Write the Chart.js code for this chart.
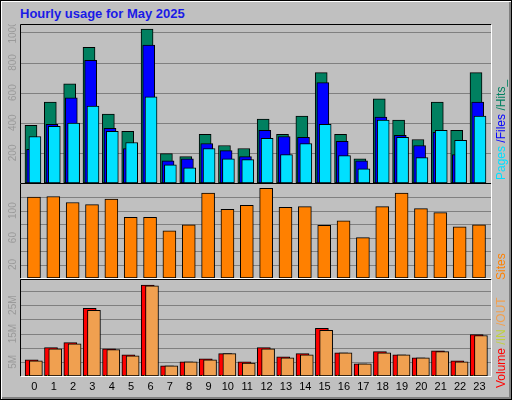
<!DOCTYPE html>
<html><head><meta charset="utf-8">
<script src="https://cdn.jsdelivr.net/npm/chart.js@4"></script>
<style>
html,body{margin:0;padding:0;}
body{width:512px;height:400px;background:#c0c0c0;position:relative;overflow:hidden;font-family:"Liberation Sans",Arial,sans-serif;}
#frame{position:absolute;left:0;top:0;width:510px;height:398px;border:1px solid #000;box-shadow:inset 1px 1px 0 #fff,inset -2px -2px 0 #808080;}
canvas{position:absolute;left:0;}
#title{position:absolute;left:20px;top:6px;font-weight:bold;font-size:13px;color:#1a1ae6;}
.rl{position:absolute;transform-origin:left top;transform:rotate(-90deg);font-size:12px;white-space:nowrap;}
</style></head><body>
<div id="frame"></div>
<div id="title">Hourly usage for May 2025</div>
<canvas id="c1" width="512" height="160" style="top:24px"></canvas>
<canvas id="c2" width="512" height="96" style="top:183px"></canvas>
<canvas id="c3" width="512" height="118" style="top:279px"></canvas>
<div class="rl" style="left:494px;top:180px"><span style="color:#00e0ff">Pages</span><span style="color:#0000ff"> /Files</span><span style="color:#008060"> /Hits_</span></div>
<div class="rl" style="left:494px;top:280px"><span style="color:#ff8000">Sites</span></div>
<div class="rl" style="left:494px;top:388px"><span style="color:#ff0000">Volume</span><span style="color:#c0d040"> /IN</span><span style="color:#f0a050"> /OUT</span></div>
<script>
const hours=[...Array(24).keys()];
const hits=[383,538,659,901,457,343,1022,195,175,323,249,229,424,323,444,733,323,161,558,417,289,538,350,733];
const files=[224,390,565,814,363,229,915,148,161,262,215,175,350,309,303,666,276,148,437,316,249,336,188,538];
const pages=[309,377,397,511,343,269,572,121,101,229,161,155,296,188,262,390,182,94,417,303,168,350,283,444];
const sites=[120,121,112,109,117,90,90,70,79,126,102,108,133,105,106,78,85,60,106,126,103,97,76,79];
const volume=[5.7,10,11.8,23.9,9.6,7.5,32.1,3.6,5,6.1,7.9,5,10,6.8,7.9,16.8,8.2,4.3,8.6,7.5,6.4,8.9,5.4,14.6];
const volIn=[0.3,0.3,0.3,0.3,0.3,0.3,0.3,0.3,0.3,0.3,0.3,0.3,0.3,0.3,0.3,0.3,0.3,0.3,0.3,0.3,0.3,0.3,0.3,0.3];
const volOut=[5.4,9.6,11.4,23.2,9.3,7.1,31.8,3.6,5,5.7,7.9,4.6,9.6,6.4,7.5,16.1,8.2,4.3,8.2,7.5,6.4,8.6,5,14.3];
const top1=[200,400,600,800,1000], lab1=['200','400','600','800','1000'];
const grid2=[20,40,60,80,100,120], lab2=['20','60','100'];
const grid3=[5,10,15,20,25,30], lab3=['5M','15M','25M'];

function ds(vals,off,color,th,order){return{data:vals.map((v,i)=>({x:i+off,y:v})),backgroundColor:color,borderColor:'#000',borderWidth:1,barThickness:th,grouped:false,borderSkipped:false,order};}
function deco(grid,labels,labelVals,xlabels){return{id:'deco',
 beforeDatasetsDraw(ch){const c=ch.ctx,a=ch.chartArea,y=ch.scales.y;c.save();
  c.strokeStyle='#808080';c.lineWidth=1;
  grid.forEach(g=>{const p=Math.round(y.getPixelForValue(g))+0.5;c.beginPath();c.moveTo(a.left,p);c.lineTo(a.right,p);c.stroke();});
  c.fillStyle='#9a9a9a';c.font='10px "Liberation Sans"';c.textAlign='center';c.textBaseline='middle';
  labelVals.forEach((g,i)=>{const p=y.getPixelForValue(g);c.save();c.translate(13,p);c.rotate(-Math.PI/2);c.fillText(labels[i],0,0);c.restore();});
  c.restore();},
 afterDatasetsDraw(ch){const c=ch.ctx,a=ch.chartArea,x=ch.scales.x;c.save();
  c.lineWidth=1;c.strokeStyle='#000';c.beginPath();c.moveTo(a.left-0.5,a.bottom);c.lineTo(a.left-0.5,a.top-0.5);c.lineTo(a.right,a.top-0.5);c.stroke();
  c.strokeStyle='#fff';c.beginPath();c.moveTo(a.right+0.5,a.top);c.lineTo(a.right+0.5,a.bottom+0.5);c.lineTo(a.left,a.bottom+0.5);c.stroke();
  if(xlabels){c.fillStyle='#000';c.font='11px "Liberation Sans"';c.textAlign='center';c.textBaseline='top';
   xlabels.forEach(h=>c.fillText(String(h),x.getPixelForValue(h+0.02),a.bottom+5));}
  c.restore();}};}
function mk(id,datasets,ymax,plugin,padB){return new Chart(document.getElementById(id),{type:'bar',data:{datasets},
 options:{responsive:false,animation:false,events:[],layout:{padding:{left:21,right:21,top:1,bottom:padB}},
  plugins:{legend:{display:false},tooltip:{enabled:false}},
  scales:{x:{type:'linear',offset:false,min:-0.67,max:23.62,display:false},y:{min:0,max:ymax,display:false}}},plugins:[plugin]});}
mk('c1',[ds(hits,-0.155,'#008060',12,3),ds(files,-0.07,'#0000ff',12,2),ds(pages,0.05,'#00e0ff',12,1)],1049,deco(top1,lab1,top1,null),1);
mk('c2',[ds(sites,0,'#ff8000',13,1)],139.5,deco(grid2,lab2,[20,60,100],null),1);
mk('c3',[ds(volume,-0.12,'#ff0000',13,3),ds(volOut,0.1,'#f0a050',13,2),ds(volIn,-0.3,'#ffff00',2,1)],33.9,deco(grid3,lab3,[5,15,25],hours),21);
</script></body></html>
